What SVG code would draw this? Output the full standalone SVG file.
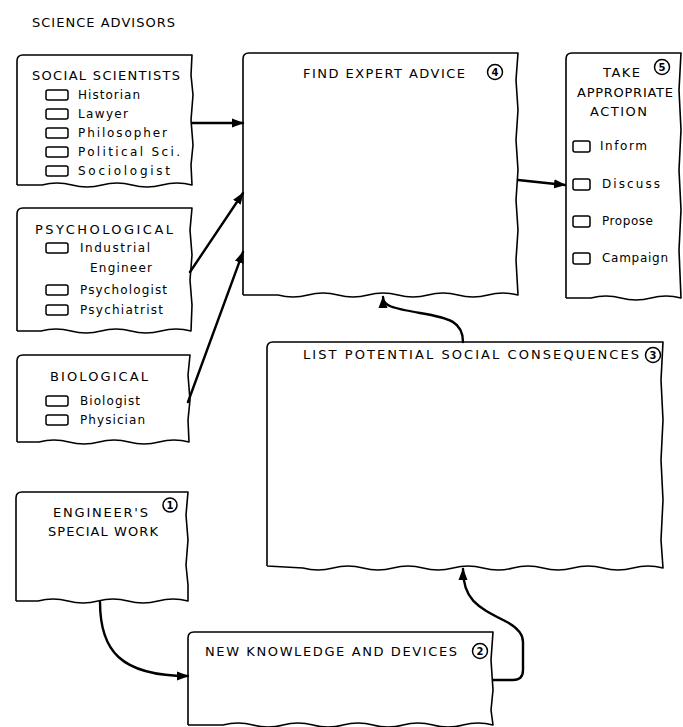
<svg xmlns="http://www.w3.org/2000/svg" width="683" height="727" viewBox="0 0 683 727">
<style>
.box{fill:none;stroke:#000;stroke-width:1.6;stroke-linejoin:round}
.cb{fill:none;stroke:#000;stroke-width:1.5}
.num{fill:none;stroke:#000;stroke-width:1.5}
.t{font-family:"DejaVu Sans","Liberation Sans",sans-serif;font-size:13px;fill:#000}
.i{font-family:"DejaVu Sans","Liberation Sans",sans-serif;font-size:12px;fill:#000}
.n{font-family:"DejaVu Sans","Liberation Sans",sans-serif;font-size:10px;font-weight:bold;fill:#000;text-anchor:middle}
.c{fill:none;stroke:#000;stroke-width:2.4;stroke-linecap:round}
</style>
<defs>
<marker id="ah" markerUnits="userSpaceOnUse" markerWidth="12" markerHeight="10" refX="11" refY="5" orient="auto">
<path d="M0,0.5 L12,5 L0,9.5 Z" fill="#000"/>
</marker>
</defs>
<rect width="683" height="727" fill="#fff"/>
<text class="t" x="32" y="27" textLength="143">SCIENCE ADVISORS</text>

<g id="social">
<path class="box" d="M17 185 L17 61 Q17 55 23 55 L192 55 L191 75 L193 95 L191 120 L193 145 L191 165 L192 185 Q177 181 162 185 T132 185 T102 185 T72 185 T42 185 L17 185"/>
<text class="t" x="32" y="80" textLength="148">SOCIAL SCIENTISTS</text>
<rect class="cb" x="46" y="90" width="22" height="10" rx="2"/><text class="i" x="78" y="99" textLength="62">Historian</text>
<rect class="cb" x="46" y="109" width="22" height="10" rx="2"/><text class="i" x="78" y="118" textLength="50">Lawyer</text>
<rect class="cb" x="46" y="128" width="22" height="10" rx="2"/><text class="i" x="78" y="137" textLength="89">Philosopher</text>
<rect class="cb" x="46" y="147" width="22" height="10" rx="2"/><text class="i" x="78" y="156" textLength="102">Political Sci.</text>
<rect class="cb" x="46" y="166" width="22" height="10" rx="2"/><text class="i" x="78" y="175" textLength="92">Sociologist</text>
</g>

<g id="psych">
<path class="box" d="M17 331 L17 214 Q17 208 23 208 L192 208 L190 230 L192 255 L190 280 L192 305 L191 331 Q176 327 161 331 T131 331 T101 331 T71 331 T41 331 L17 331"/>
<text class="t" x="35" y="234" textLength="138">PSYCHOLOGICAL</text>
<rect class="cb" x="46" y="243" width="22" height="10" rx="2"/><text class="i" x="80" y="252" textLength="70">Industrial</text>
<text class="i" x="90" y="272" textLength="62">Engineer</text>
<rect class="cb" x="46" y="285" width="22" height="10" rx="2"/><text class="i" x="80" y="294" textLength="87">Psychologist</text>
<rect class="cb" x="46" y="305" width="22" height="10" rx="2"/><text class="i" x="80" y="314" textLength="83">Psychiatrist</text>
</g>

<g id="bio">
<path class="box" d="M17 442 L17 361 Q17 355 23 355 L190 355 L188 375 L190 400 L188 420 L189 442 Q174 438 159 442 T129 442 T99 442 T69 442 T39 442 L17 442"/>
<text class="t" x="50" y="381" textLength="98">BIOLOGICAL</text>
<rect class="cb" x="46" y="396" width="22" height="10" rx="2"/><text class="i" x="80" y="405" textLength="60">Biologist</text>
<rect class="cb" x="46" y="415" width="22" height="10" rx="2"/><text class="i" x="80" y="424" textLength="65">Physician</text>
</g>

<g id="engineer">
<path class="box" d="M16 601 L16 498 Q16 492 22 492 L188 492 L186 515 L188 540 L186 565 L188 585 L188 601 Q173 597 158 601 T128 601 T98 601 T68 601 T38 601 L16 601"/>
<text class="t" x="53" y="517" textLength="95">ENGINEER'S</text>
<circle class="num" cx="170" cy="505" r="7"/><text class="n" x="170" y="509">1</text>
<text class="t" x="48" y="536" textLength="110">SPECIAL WORK</text>
</g>

<g id="find">
<path class="box" d="M243 295 L243 59 Q243 53 249 53 L518 53 L516 80 L518 110 L516 140 L518 170 L516 200 L518 230 L516 260 L518 295 Q503 291 488 295 T458 295 T428 295 T398 295 T368 295 T338 295 T308 295 T278 295 L243 295"/>
<text class="t" x="303" y="78" textLength="162">FIND EXPERT ADVICE</text>
<circle class="num" cx="495" cy="72" r="7.5"/><text class="n" x="495" y="76">4</text>
</g>

<g id="take">
<path class="box" d="M566 298 L566 59 Q566 53 572 53 L681 53 L679 90 L681 130 L679 170 L681 210 L679 250 L681 298 Q666 294 651 298 T621 298 T591 298 L566 298"/>
<text class="t" x="603" y="77" textLength="37">TAKE</text>
<circle class="num" cx="662" cy="67" r="7.5"/><text class="n" x="662" y="71">5</text>
<text class="t" x="577" y="97" textLength="96">APPROPRIATE</text>
<text class="t" x="590" y="116" textLength="57">ACTION</text>
<rect class="cb" x="573" y="141" width="17" height="11" rx="2"/><text class="i" x="600" y="150" textLength="47">Inform</text>
<rect class="cb" x="573" y="179" width="17" height="11" rx="2"/><text class="i" x="602" y="188" textLength="58">Discuss</text>
<rect class="cb" x="573" y="216" width="17" height="11" rx="2"/><text class="i" x="602" y="225" textLength="51">Propose</text>
<rect class="cb" x="573" y="253" width="17" height="11" rx="2"/><text class="i" x="602" y="262" textLength="66">Campaign</text>
</g>

<g id="list">
<path class="box" d="M267 566 L267 348 Q267 342 273 342 L663 342 L661 380 L663 420 L661 460 L663 500 L661 540 L663 568 Q648 564 633 568 T603 568 T573 568 T543 568 T513 568 T483 568 T453 568 T423 568 T393 568 T363 568 T333 568 T303 568 L267 566"/>
<text class="t" x="303" y="359" textLength="336">LIST POTENTIAL SOCIAL CONSEQUENCES</text>
<circle class="num" cx="653" cy="355" r="7.5"/><text class="n" x="653" y="359">3</text>
</g>

<g id="newknowledge">
<path class="box" d="M188 725 L188 638 Q188 632 194 632 L493 632 L491 660 L493 690 L491 710 L493 725 Q478 721 463 725 T433 725 T403 725 T373 725 T343 725 T313 725 T283 725 T253 725 T223 725 L188 725"/>
<text class="t" x="205" y="656" textLength="252">NEW KNOWLEDGE AND DEVICES</text>
<circle class="num" cx="480" cy="651" r="7.5"/><text class="n" x="480" y="655">2</text>
</g>

<g id="connectors">
<path class="c" d="M192 123 L243 123" marker-end="url(#ah)"/>
<path class="c" d="M190 272 L243 193" marker-end="url(#ah)"/>
<path class="c" d="M188 402 L243 252" marker-end="url(#ah)"/>
<path class="c" d="M518 180 L565 185" marker-end="url(#ah)"/>
<path class="c" d="M463 342 C463 322 450 318 420 313 C392 308 383 306 383 297" marker-end="url(#ah)"/>
<path class="c" d="M100 602 C100 650 120 676 188 676" marker-end="url(#ah)"/>
<path class="c" d="M493 680 L513 680 Q523 680 523 670 L523 642 Q523 630 505 621 C478 607 463 600 463 569" marker-end="url(#ah)"/>
</g>
</svg>
